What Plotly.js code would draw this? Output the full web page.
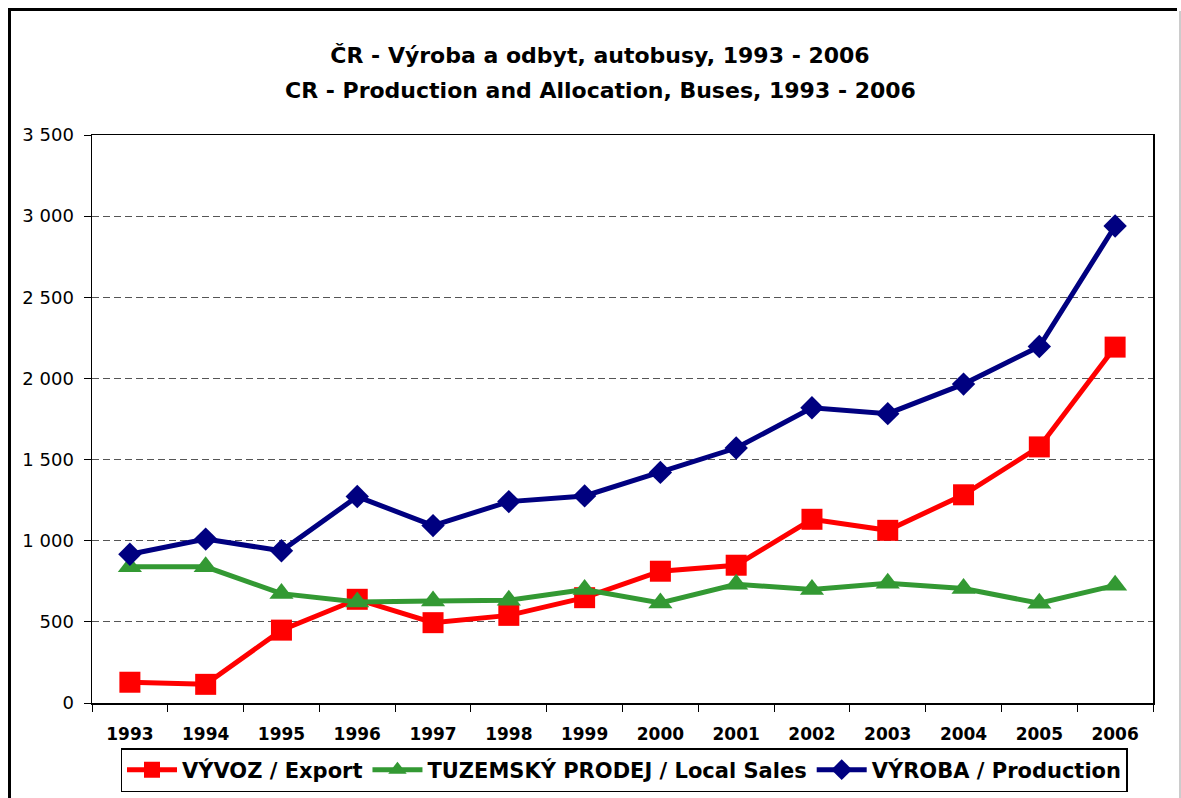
<!DOCTYPE html>
<html>
<head>
<meta charset="utf-8">
<script src="https://cdn.plot.ly/plotly-3.0.1.min.js"></script>
<style>
html,body{margin:0;padding:0;background:#fff;}
#chart{width:1181px;height:798px;}
</style>
</head>
<body>
<div id="chart"></div>
<script>
const years = ['1993','1994','1995','1996','1997','1998','1999','2000','2001','2002','2003','2004','2005','2006'];
const exportVals = [128, 115, 449, 639, 495, 540, 649, 812, 849, 1132, 1064, 1283, 1578, 2193];
const localVals = [839, 839, 674, 623, 629, 633, 699, 616, 732, 699, 738, 705, 615, 725];
const productionVals = [917, 1010, 938, 1272, 1093, 1241, 1276, 1421, 1571, 1819, 1783, 1965, 2197, 2939];
const seriesNames = ['VÝVOZ / Export', 'TUZEMSKÝ PRODEJ / Local Sales', 'VÝROBA / Production'];
const titleLine1 = 'ČR - Výroba a odbyt, autobusy, 1993 - 2006';
const titleLine2 = 'CR - Production and Allocation, Buses, 1993 - 2006';

const FONT = 'DejaVu Sans, Arial, sans-serif';

const traces = [
  {x: years, y: exportVals, name: seriesNames[0], type: 'scatter', mode: 'lines+markers',
   line: {color: '#FF0000', width: 5}, marker: {symbol: 'square', size: 21, color: '#FF0000'}},
  {x: years, y: localVals, name: seriesNames[1], type: 'scatter', mode: 'lines+markers',
   line: {color: '#339933', width: 5}, marker: {symbol: 'triangle-up', size: 21, color: '#339933'}},
  {x: years, y: productionVals, name: seriesNames[2], type: 'scatter', mode: 'lines+markers',
   line: {color: '#000080', width: 5}, marker: {symbol: 'diamond', size: 18, color: '#000080'}}
];

const L = 92, R = 1153, T = 135, B = 703, W = 1181, H = 798;
const pw = R - L, ph = B - T;
const px = v => (v - L) / pw;
const py = v => (B - v) / ph;

const layout = {
  width: W, height: H,
  margin: {l: L, r: W - R, t: T, b: H - B},
  paper_bgcolor: '#fff', plot_bgcolor: '#fff',
  separators: ', ',
  font: {family: FONT, color: '#000', size: 17},
  title: {
    text: titleLine1,
    font: {family: FONT, size: 22, color: '#000', weight: 'bold'},
    xref: 'container', x: 600 / W, xanchor: 'center',
    yref: 'container', y: 1 - 55 / H, yanchor: 'middle'
  },
  annotations: [
    {text: titleLine2, showarrow: false, xref: 'paper', yref: 'paper',
     x: px(600), xanchor: 'center', y: py(90), yanchor: 'middle',
     font: {family: FONT, size: 22, color: '#000', weight: 'bold'}}
  ],
  showlegend: true,
  legend: {
    orientation: 'h', xref: 'container', yref: 'container',
    x: 624 / W, xanchor: 'center', y: 1 - 792 / H, yanchor: 'bottom',
    bordercolor: '#000', borderwidth: 1.5, bgcolor: '#fff',
    font: {family: FONT, size: 21, color: '#000', weight: 'bold'},
    itemwidth: 50, tracegroupgap: 0
  },
  xaxis: {
    type: 'category', range: [-0.5, 13.5],
    tickson: 'boundaries', ticks: 'outside', ticklen: 7, tickcolor: '#000', tickwidth: 1,
    showline: true, linecolor: '#000', linewidth: 1.5, mirror: true,
    showgrid: false, zeroline: false,
    tickfont: {family: FONT, size: 17, color: '#000', weight: 'bold'},
    ticklabelstandoff: 15, fixedrange: true
  },
  yaxis: {
    range: [0, 3500], dtick: 500, tick0: 0, tickformat: ',d',
    ticks: 'outside', ticklen: 7, tickcolor: '#000', tickwidth: 1,
    showline: true, linecolor: '#000', linewidth: 1.5, mirror: true,
    showgrid: true, gridcolor: '#555', gridwidth: 1, griddash: '7px,4px',
    zeroline: false,
    tickfont: {family: FONT, size: 18, color: '#000'},
    ticklabelstandoff: 6, fixedrange: true
  },
  shapes: [
    {type: 'line', xref: 'paper', yref: 'paper', x0: px(9.5), x1: px(9.5), y0: py(8), y1: py(805), line: {color: '#000', width: 3}},
    {type: 'line', xref: 'paper', yref: 'paper', x0: px(8), x1: px(1177), y0: py(9.5), y1: py(9.5), line: {color: '#000', width: 3}},
    {type: 'line', xref: 'paper', yref: 'paper', x0: px(1180), x1: px(1180), y0: py(11), y1: py(805), line: {color: '#999', width: 1}}
  ]
};

Plotly.newPlot('chart', traces, layout, {displayModeBar: false, staticPlot: true});
</script>
</body>
</html>
